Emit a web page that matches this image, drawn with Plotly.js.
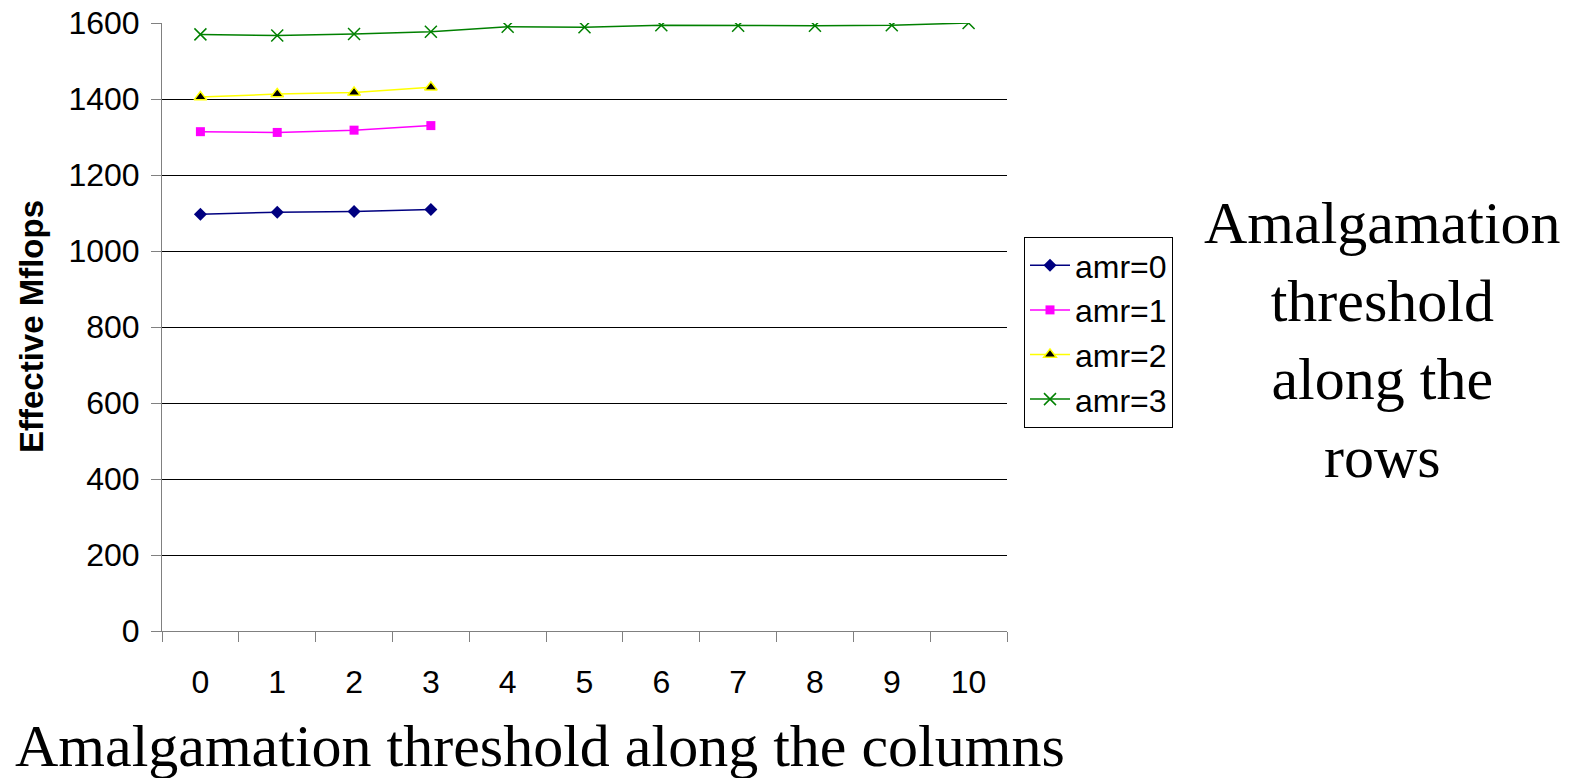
<!DOCTYPE html>
<html>
<head>
<meta charset="utf-8">
<script src="https://cdn.plot.ly/plotly-3.0.1.min.js"></script>
<style>html,body{margin:0;padding:0;background:#fff;}</style>
</head>
<body>
<div id="chart" style="width:1573px;height:778px;"></div>
<script>
const xLabels = ['0','1','2','3','4','5','6','7','8','9','10'];
const seriesNames = ['amr=0','amr=1','amr=2','amr=3'];
const amr0 = [1097, 1102, 1104, 1109];
const amr1 = [1314, 1312, 1318, 1330];
const amr2 = [1405, 1413, 1417, 1431];
const amr3 = [1570, 1567, 1571, 1577, 1590, 1589, 1594, 1593, 1593, 1594, 1600];
const yTitle = 'Effective Mflops';
const xTitle = 'Amalgamation threshold along the columns';
const sideTitle = 'Amalgamation<br>threshold<br>along the<br>rows';

const W = 1573, H = 778;
const M = {l: 162, r: 566, t: 23, b: 147};
const PW = W - M.l - M.r, PH = H - M.t - M.b;
const px = x => (x - M.l) / PW;
const py = y => (H - M.b - y) / PH;
const SANS = '"Liberation Sans", Arial, sans-serif';
const SERIF = '"Liberation Serif", "Times New Roman", serif';

const traces = [
  {y: amr0, name: seriesNames[0], line: {color: '#000080', width: 1.5},
   marker: {symbol: 'diamond', size: 10, color: '#000080'}},
  {y: amr1, name: seriesNames[1], line: {color: '#FF00FF', width: 1.5},
   marker: {symbol: 'square', size: 9, color: '#FF00FF'}},
  {y: amr2, name: seriesNames[2], line: {color: '#FFFF00', width: 1.5},
   marker: {symbol: 'triangle-up', size: 11, color: '#000000', line: {color: '#FFFF00', width: 1.5}}},
  {y: amr3, name: seriesNames[3], line: {color: '#008000', width: 1.5},
   marker: {symbol: 'x-thin-open', size: 12, color: '#008000', line: {color: '#008000', width: 1.5}}}
].map((t, i) => Object.assign({
  type: 'scatter', mode: 'lines+markers',
  x: xLabels.slice(0, t.y.length),
  legendgroup: 'g' + i
}, t));

const layout = {
  width: W, height: H, autosize: false,
  margin: M,
  paper_bgcolor: '#fff', plot_bgcolor: '#fff',
  showlegend: true,
  font: {family: SANS, color: '#000', size: 32},
  xaxis: {
    type: 'category', range: [-0.5, 10.5], tickson: 'boundaries',
    ticks: 'outside', ticklen: 10, tickcolor: '#808080', tickwidth: 1,
    showline: true, linecolor: '#808080', linewidth: 1,
    showgrid: false, zeroline: false,
    ticklabelstandoff: 23,
    tickfont: {size: 32, family: SANS}
  },
  yaxis: {
    range: [0, 1600], dtick: 200, tick0: 0,
    ticks: 'outside', ticklen: 10, tickcolor: '#808080', tickwidth: 1,
    showline: true, linecolor: '#808080', linewidth: 1,
    showgrid: true, gridcolor: '#000', gridwidth: 1,
    zeroline: false,
    ticklabelstandoff: 5,
    tickfont: {size: 32, family: SANS}
  },
  legend: {
    x: px(1024), y: py(237), xanchor: 'left', yanchor: 'top',
    bordercolor: '#000', borderwidth: 1, bgcolor: '#fff',
    font: {size: 32, family: SANS},
    itemwidth: 40,
    tracegroupgap: 0
  },
  annotations: [
    {text: '<b>' + yTitle + '</b>', textangle: -90, xref: 'paper', yref: 'paper',
     x: px(31), y: py(327), xanchor: 'center', yanchor: 'middle', showarrow: false,
     font: {size: 33, family: SANS}},
    {text: xTitle, xref: 'paper', yref: 'paper',
     x: px(540), y: py(746), xanchor: 'center', yanchor: 'middle', showarrow: false,
     font: {size: 60, family: SERIF}},
    {text: sideTitle, xref: 'paper', yref: 'paper',
     x: px(1382), y: py(340), xanchor: 'center', yanchor: 'middle', showarrow: false, align: 'center',
     font: {size: 60, family: SERIF}}
  ]
};

Plotly.newPlot('chart', traces, layout, {displayModeBar: false, staticPlot: true});
</script>
</body>
</html>
